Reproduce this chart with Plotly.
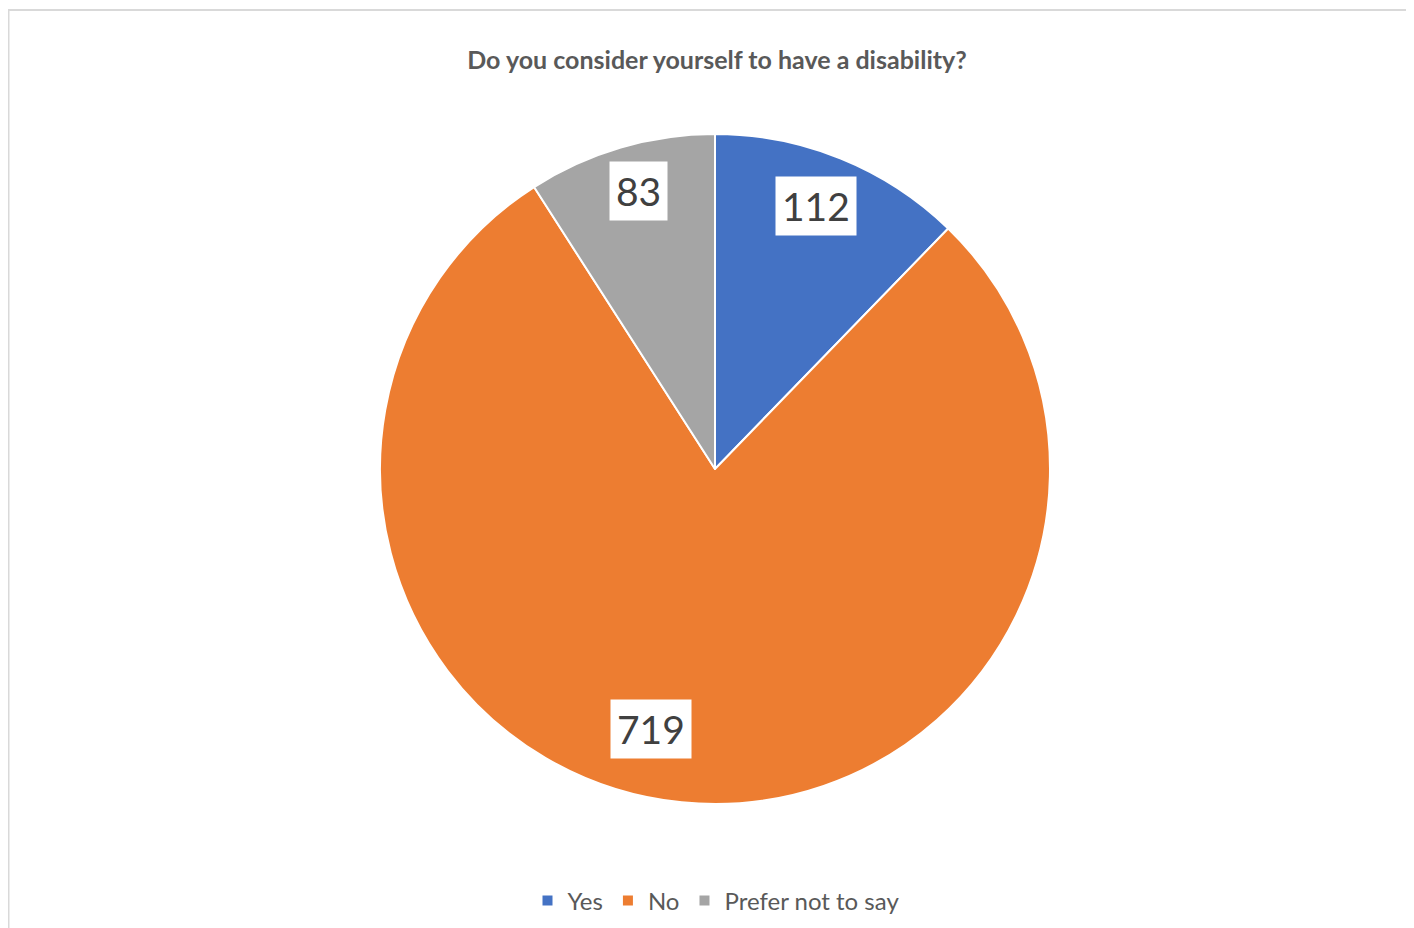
import math
import plotly.graph_objects as go

# ---- data ----
categories = ["Yes", "No", "Prefer not to say"]
values = [112, 719, 83]
title_text = "Do you consider yourself to have a disability?"

# ---- style ----
colors = ["#4472C4", "#ED7D31", "#A5A5A5"]
OFF = 8                     # page body margin
W, H = 1414 - OFF, 928 - OFF
CX, CY, R = 715 - OFF, 469 - OFF, 335  # pie centre / radius in figure px
# label placement (radial fraction, angular shift in degrees) per slice
label_style = [(0.84, -1.0), (0.80, 8.0), (0.86, 1.0)]

dom_x = [(CX - R) / W, (CX + R) / W]
dom_y = [1 - (CY + R) / H, 1 - (CY - R) / H]

fig = go.Figure(go.Pie(
    labels=categories,
    values=values,
    sort=False,
    direction="clockwise",
    rotation=0,
    marker=dict(colors=colors, line=dict(color="white", width=2)),
    textinfo="none",
    hoverinfo="label+value",
    domain=dict(x=dom_x, y=dom_y),
))

# value labels computed from the slice angles
total = sum(values)
annotations = []
cum = 0
for v, (rf, shift) in zip(values, label_style):
    mid = (cum + v / 2) / total * 360 + shift
    cum += v
    px = CX + rf * R * math.sin(math.radians(mid))
    py = CY - rf * R * math.cos(math.radians(mid))
    annotations.append(dict(
        x=px / W, y=1 - py / H, xref="paper", yref="paper",
        text=str(v), showarrow=False,
        font=dict(family="Lato", size=39, color="#404040"),
        bgcolor="white", borderpad=6,
        xanchor="center", yanchor="middle",
    ))

fig.update_layout(
    width=W, height=H,
    margin=dict(l=0, r=0, t=0, b=0),
    paper_bgcolor="white",
    plot_bgcolor="white",
    title=dict(
        text="<b>" + title_text + "</b>",
        x=(717 - OFF) / W, xanchor="center", xref="paper",
        y=1 - (60 - OFF) / H, yanchor="middle", yref="paper",
        font=dict(family="Lato", size=25, color="#595959"),
    ),
    showlegend=True,
    legend=dict(
        orientation="h",
        x=(716 - OFF) / W, xanchor="center",
        y=1 - (901 - OFF) / H, yanchor="middle",
        font=dict(family="Lato", size=24, color="#595959"),
        itemwidth=30,
        traceorder="normal",
    ),
    annotations=annotations,
    shapes=[
        dict(type="line", xref="paper", yref="paper",
             x0=0.5 / W, x1=0.5 / W, y0=0, y1=1 - (10 - OFF) / H,
             line=dict(color="#D9D9D9", width=2)),
        dict(type="line", xref="paper", yref="paper",
             x0=0, x1=1, y0=1 - (10 - OFF) / H, y1=1 - (10 - OFF) / H,
             line=dict(color="#D9D9D9", width=2)),
    ],
)

fig.write_html("out.html")
